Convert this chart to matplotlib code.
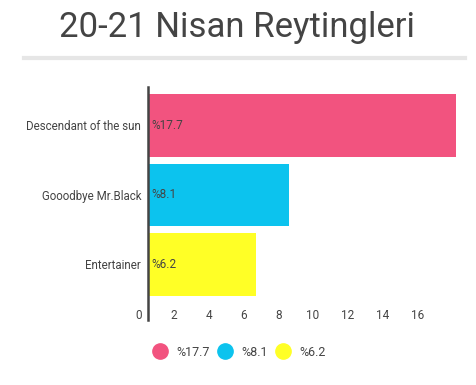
import matplotlib.pyplot as plt
import matplotlib.transforms as mtransforms
from matplotlib.lines import Line2D

plt.rcParams['font.family'] = ['Roboto', 'DejaVu Sans']

# veriler
diziler = ['Descendant of the sun', 'Gooodbye Mr.Black', 'Entertainer']
reytingler = [17.7, 8.1, 6.2]
etiketler = ['%17.7', '%8.1', '%6.2']
renkler = ['#F2537F', '#0CC3EE', '#FFFF26']
x_ticks = [0, 2, 4, 6, 8, 10, 12, 14, 16]

fig = plt.figure(figsize=(4.77, 3.85), dpi=100)
ax = fig.add_axes([148 / 477, 1 - 320 / 385, 308 / 477, 233 / 385])

y = range(len(diziler))
ax.barh(y, reytingler, height=0.9, color=renkler)
for i, (v, e) in enumerate(zip(reytingler, etiketler)):
    ax.text(0.2, i, e, va='center', ha='left', fontsize=8.5, color='#444444')

ax.set_xlim(0, 17.7)
ax.set_ylim(2.8, -0.55)
ax.set_yticks(list(y))
ax.set_yticklabels(diziler, fontsize=8.3, color='#444444')
ax.set_xticks(x_ticks)
ax.set_xticklabels([str(t) for t in x_ticks], fontsize=8.5, color='#444444')
ax.tick_params(length=0)
ax.tick_params(axis='x', pad=-8)
ax.tick_params(axis='y', pad=5)

# x etiketlerini biraz sola kaydır
ofs = mtransforms.ScaledTranslation(-9 / 100, 0, fig.dpi_scale_trans)
for lab in ax.get_xticklabels():
    lab.set_transform(lab.get_transform() + ofs)

for s in ['top', 'right', 'bottom']:
    ax.spines[s].set_visible(False)
ax.spines['left'].set_color('#444444')
ax.spines['left'].set_linewidth(1.8)

# başlık
fig.text(237 / 477, 1 - 28 / 385, '20-21 Nisan Reytingleri', ha='center', va='center',
         fontsize=25, color='#444444')
fig.add_artist(Line2D([24 / 477, 465 / 477], [1 - 58 / 385, 1 - 58 / 385],
                      color='#e6e6e6', linewidth=3))

handles = [Line2D([], [], marker='o', linestyle='none', markersize=11,
                  markerfacecolor=c, markeredgecolor=c) for c in renkler]
fig.legend(handles, etiketler, loc='center', bbox_to_anchor=(238 / 477, 1 - 352 / 385),
           ncol=3, frameon=False, fontsize=9, handletextpad=0.5, columnspacing=0.4,
           handlelength=1.6, labelcolor='#444444')

plt.savefig('out.png', dpi=100)
